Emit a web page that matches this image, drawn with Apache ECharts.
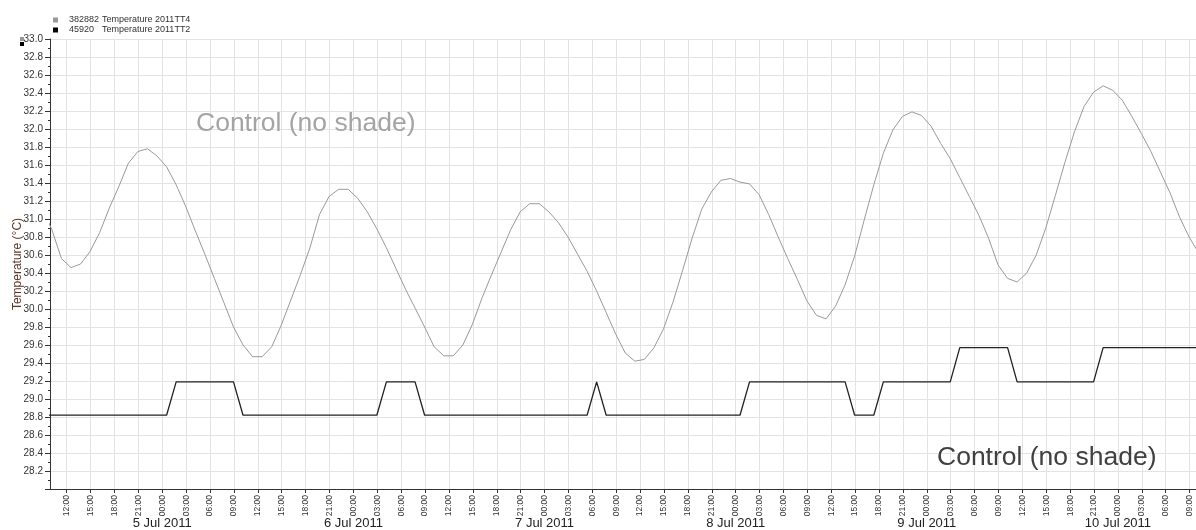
<!DOCTYPE html>
<html>
<head>
<meta charset="utf-8">
<script src="https://cdn.jsdelivr.net/npm/echarts@6/dist/echarts.min.js"></script>
<style>
html,body{margin:0;padding:0;background:#fff;}
#chart{width:1196px;height:530px;}
</style>
</head>
<body>
<div id="chart"></div>
<script>
// ---- data (hours since 4 Jul 2011 00:00) ----
var sampleStart = 8.94;      // first logged sample (just before visible range)
var sampleStep = 1.2;        // logging interval, hours
var seriesNames = ['Temperature 2011TT4', 'Temperature 2011TT2'];
var seriesIds = ['382882', '45920'];

var tt4 = [
  31.12, 30.88, 30.56, 30.46, 30.50, 30.64, 30.85, 31.12, 31.36, 31.62,
  31.75, 31.78, 31.70, 31.58, 31.38, 31.14, 30.87, 30.61, 30.34, 30.07,
  29.80, 29.60, 29.47, 29.47, 29.58, 29.82, 30.10, 30.38, 30.68, 31.05,
  31.25, 31.33, 31.33, 31.23, 31.08, 30.89, 30.68, 30.45, 30.22, 30.01,
  29.80, 29.58, 29.48, 29.48, 29.60, 29.83, 30.12, 30.38, 30.63, 30.88,
  31.08, 31.17, 31.17, 31.08, 30.96, 30.80, 30.61, 30.42, 30.20, 29.96,
  29.72, 29.51, 29.42, 29.44, 29.57, 29.78, 30.08, 30.43, 30.79, 31.11,
  31.30, 31.43, 31.45, 31.41, 31.39, 31.27, 31.05, 30.80, 30.56, 30.33,
  30.09, 29.93, 29.89, 30.03, 30.27, 30.59, 30.99, 31.38, 31.73, 31.99,
  32.14, 32.19, 32.15, 32.03, 31.84, 31.67, 31.46, 31.25, 31.04, 30.79,
  30.49, 30.34, 30.30, 30.40, 30.60, 30.90, 31.26, 31.63, 31.97, 32.25,
  32.41, 32.48, 32.43, 32.32, 32.14, 31.95, 31.75, 31.52, 31.29, 31.02,
  30.80, 30.62
];
var tt2 = [
  28.82, 28.82, 28.82, 28.82, 28.82, 28.82, 28.82, 28.82, 28.82, 28.82,
  28.82, 28.82, 28.82, 28.82, 29.19, 29.19, 29.19, 29.19, 29.19, 29.19,
  29.19, 28.82, 28.82, 28.82, 28.82, 28.82, 28.82, 28.82, 28.82, 28.82,
  28.82, 28.82, 28.82, 28.82, 28.82, 28.82, 29.19, 29.19, 29.19, 29.19,
  28.82, 28.82, 28.82, 28.82, 28.82, 28.82, 28.82, 28.82, 28.82, 28.82,
  28.82, 28.82, 28.82, 28.82, 28.82, 28.82, 28.82, 28.82, 29.19, 28.82,
  28.82, 28.82, 28.82, 28.82, 28.82, 28.82, 28.82, 28.82, 28.82, 28.82,
  28.82, 28.82, 28.82, 28.82, 29.19, 29.19, 29.19, 29.19, 29.19, 29.19,
  29.19, 29.19, 29.19, 29.19, 29.19, 28.82, 28.82, 28.82, 29.19, 29.19,
  29.19, 29.19, 29.19, 29.19, 29.19, 29.19, 29.57, 29.57, 29.57, 29.57,
  29.57, 29.57, 29.19, 29.19, 29.19, 29.19, 29.19, 29.19, 29.19, 29.19,
  29.19, 29.57, 29.57, 29.57, 29.57, 29.57, 29.57, 29.57, 29.57, 29.57,
  29.57, 29.57
];

var xMin = 9.9, xMax = 153.8;
var hourTicks = [];
for (var h = 12; h <= 153; h += 3) hourTicks.push(h);
var dayTicks = [24, 48, 72, 96, 120, 144];
var dayLabels = ['5 Jul 2011', '6 Jul 2011', '7 Jul 2011', '8 Jul 2011', '9 Jul 2011', '10 Jul 2011'];
var annotation = 'Control (no shade)';

function pairs(vals) {
  var out = [];
  for (var i = 0; i < vals.length; i++) {
    out.push([+(sampleStart + sampleStep * i).toFixed(3), vals[i]]);
  }
  return out;
}
function hourLabel(v) {
  var hh = Math.round(v) % 24;
  return (hh < 10 ? '0' : '') + hh + ':00';
}

var FONT = '"Liberation Sans", Arial, sans-serif';
var chart = echarts.init(document.getElementById('chart'));
chart.setOption({
  animation: false,
  backgroundColor: '#ffffff',
  textStyle: { fontFamily: FONT },
  grid: { left: 50, right: 0, top: 39, bottom: 41, containLabel: false, outerBoundsMode: 'none' },
  legend: {
    orient: 'vertical', left: 48, top: 10,
    icon: 'rect', itemWidth: 5, itemHeight: 5, itemGap: 0,
    data: seriesNames,
    formatter: function (name) {
      var i = seriesNames.indexOf(name);
      return '{id|' + seriesIds[i] + '}{nm|' + name + '}';
    },
    textStyle: {
      fontFamily: FONT, fontSize: 9, color: '#333', lineHeight: 10,
      rich: {
        id: { width: 33, fontSize: 9, color: '#333', padding: [0, 0, 0, 6], fontFamily: FONT },
        nm: { fontSize: 9, color: '#333', fontFamily: FONT }
      }
    }
  },
  xAxis: [{
    type: 'value', min: xMin, max: xMax,
    axisLine: { show: true, lineStyle: { color: '#333', width: 1 } },
    axisTick: { show: true, customValues: hourTicks, length: 4, lineStyle: { color: '#333' } },
    axisLabel: {
      customValues: hourTicks, rotate: 90, fontSize: 8.5, color: '#333', margin: 6,
      fontFamily: FONT, formatter: hourLabel
    },
    splitLine: { show: true, lineStyle: { color: '#e3e3e3', width: 1 } }
  }, {
    type: 'value', min: xMin, max: xMax, position: 'bottom',
    axisLine: { show: false }, axisTick: { show: false }, splitLine: { show: false },
    axisLabel: {
      customValues: dayTicks, fontSize: 13, color: '#222', margin: 28, fontFamily: FONT,
      formatter: function (v) { return dayLabels[dayTicks.indexOf(Math.round(v))] || ''; }
    }
  }],
  yAxis: {
    type: 'value', min: 28, max: 33, interval: 0.2,
    name: 'Temperature (°C)', nameLocation: 'middle', nameGap: 26, nameMoveOverlap: false,
    nameTextStyle: { fontSize: 12, color: '#5e3322', fontFamily: FONT },
    axisLine: { show: true, lineStyle: { color: '#333', width: 1 } },
    axisTick: { show: true, length: 5, lineStyle: { color: '#333' } },
    minorTick: { show: true, splitNumber: 2, length: 2, lineStyle: { color: '#333' } },
    axisLabel: {
      showMinLabel: false, fontSize: 10, color: '#333', margin: 7, fontFamily: FONT,
      formatter: function (v) { return v.toFixed(1); }
    },
    splitLine: { show: true, lineStyle: { color: '#e3e3e3', width: 1 } }
  },
  graphic: [
    { type: 'rect', z: 100, left: 20, top: 37, shape: { width: 4, height: 4 }, style: { fill: '#999' } },
    { type: 'rect', z: 100, left: 20, top: 42, shape: { width: 4, height: 4 }, style: { fill: '#000' } },
    { type: 'text', z: 1, style: { x: 196, y: 123.5, verticalAlign: 'middle', text: annotation, font: '26.5px ' + FONT, fill: '#a4a4a4' } },
    { type: 'text', z: 1, style: { x: 937, y: 457.5, verticalAlign: 'middle', text: annotation, font: '26.5px ' + FONT, fill: '#404040' } }
  ],
  series: [{
    name: seriesNames[0], type: 'line', xAxisIndex: 0, data: pairs(tt4),
    showSymbol: false, clip: true, color: '#999999',
    lineStyle: { color: '#999999', width: 1 }
  }, {
    name: seriesNames[1], type: 'line', xAxisIndex: 0, data: pairs(tt2),
    showSymbol: false, clip: true, color: '#000000',
    lineStyle: { color: '#222222', width: 1.3 }
  }]
});
</script>
</body>
</html>
